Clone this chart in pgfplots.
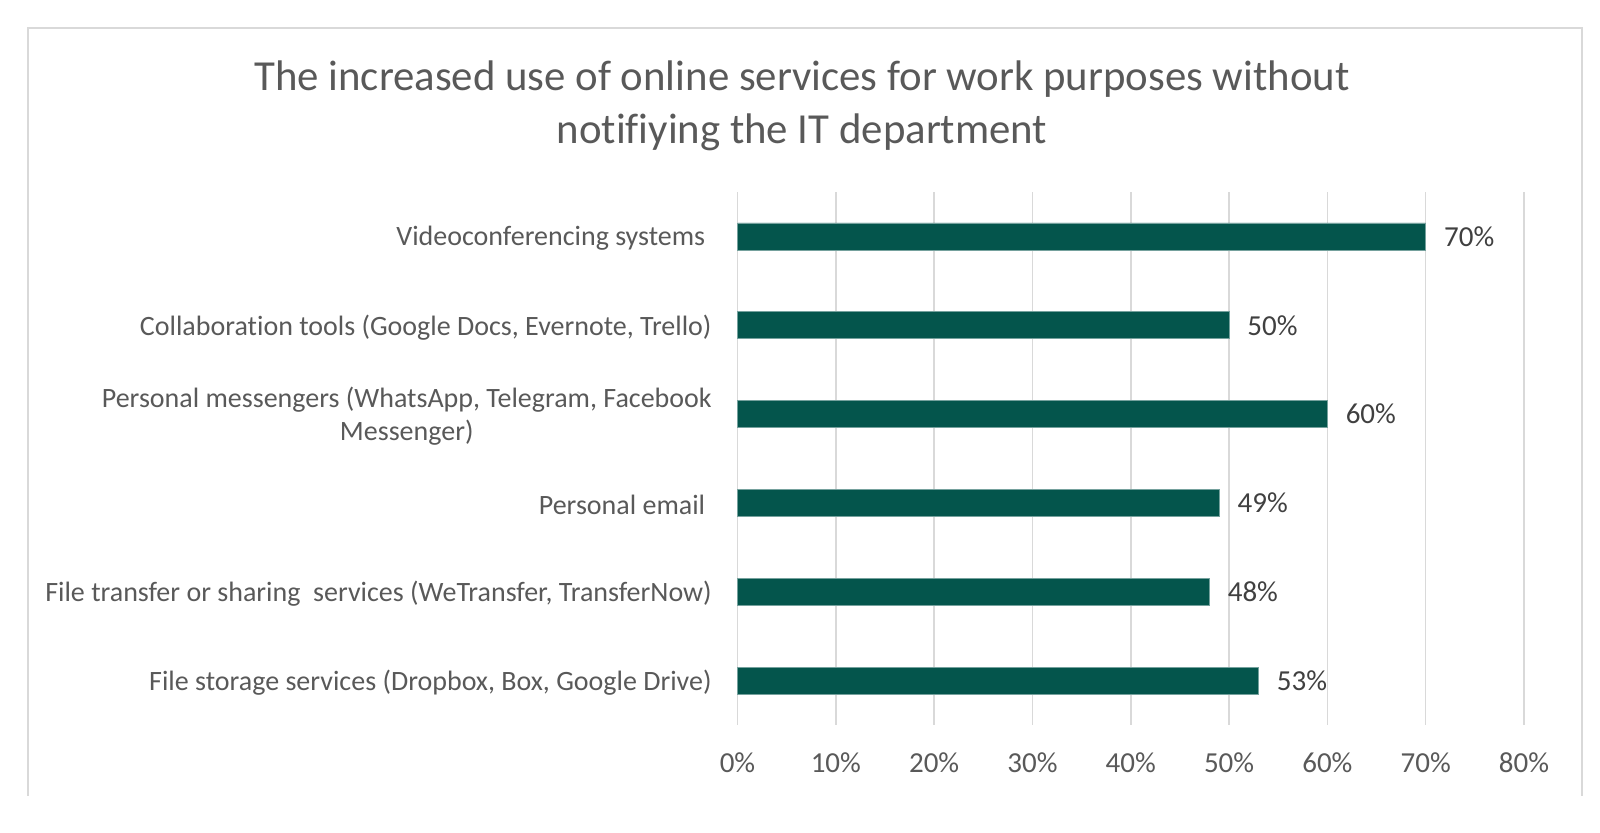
\documentclass[border=0pt]{standalone}
\usepackage{fontspec}
\setmainfont{Carlito}[Ligatures=NoCommon]
\usepackage{pgfplots}
\pgfplotsset{compat=1.18}
\definecolor{barc}{HTML}{04554C}
\definecolor{txt}{HTML}{595959}
\definecolor{valc}{HTML}{404040}
\definecolor{gridc}{HTML}{D9D9D9}
\begin{document}
\begin{tikzpicture}
\path[use as bounding box] (0,0) rectangle (800pt,416.5pt);
\draw[gridc, line width=0.75pt] (14pt,18.5pt) -- (14pt,402.5pt) -- (791pt,402.5pt) -- (791pt,18.5pt);
\node[txt, align=center, font=\fontsize{21.4}{26.5}\selectfont] at (401pt,363.5pt)
  {The increased use of online services for work purposes without\\notifiying the IT department};
\begin{axis}[
  at={(368.75pt,54pt)}, anchor=south west, scale only axis,
  width=393.25pt, height=266.5pt,
  xbar, bar width=13.5pt, bar shift=0pt,
  xmin=0, xmax=80, ymin=-0.5, ymax=5.5,
  xtick={0,10,...,80}, ytick={0,...,5},
  yticklabels={
    {File storage services (Dropbox, Box, Google Drive)},
    {File transfer or sharing~ services (WeTransfer, TransferNow)},
    {Personal email\hbox to 0.23em{}},
    {Personal messengers (WhatsApp, Telegram, Facebook\\Messenger)},
    {Collaboration tools (Google Docs, Evernote, Trello)},
    {Videoconferencing systems\hbox to 0.23em{}}},
  xmajorgrids, major grid style={gridc, line width=0.75pt},
  axis line style={draw=none}, major tick length=0pt,
  xticklabel={\pgfmathprintnumber{\tick}\%},
  xticklabel style={txt, font=\fontsize{14.5}{17}\selectfont, anchor=center, yshift=-19pt,
    /pgf/number format/assume math mode=true},
  yticklabel style={txt, font=\fontsize{14}{16.5}\selectfont, align=center, anchor=east,
    inner sep=0pt, xshift=-12.75pt, yshift=-1pt},
  point meta=x,
  nodes near coords={\pgfmathprintnumber{\pgfplotspointmeta}\%},
  nodes near coords style={valc, font=\fontsize{14.5}{17}\selectfont, anchor=west, inner sep=0pt,
    xshift=9pt, /pgf/number format/assume math mode=true},
  clip=false,
]
\addplot[fill=barc, draw=barc!55!white, line width=0.4pt]
  coordinates {(53,0) (48,1) (49,2) (60,3) (50,4) (70,5)};
\end{axis}
\end{tikzpicture}
\end{document}
